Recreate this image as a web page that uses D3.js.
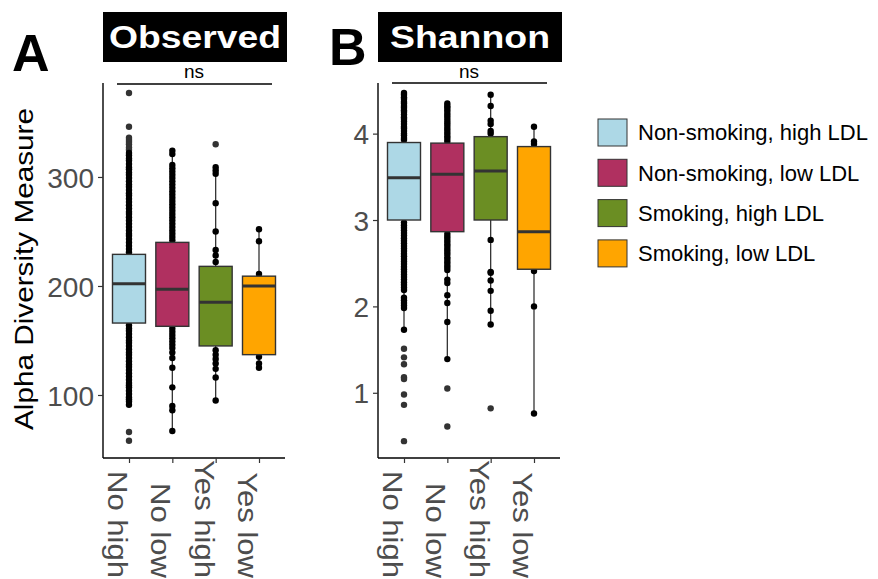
<!DOCTYPE html>
<html><head><meta charset="utf-8">
<script src="https://cdn.jsdelivr.net/npm/d3@7"></script>
<style>body{margin:0;background:#fff}svg{display:block}text{font-family:"Liberation Sans",Arial,sans-serif}</style>
</head><body><svg id="c" width="878" height="579"></svg>
<script>
// ---------- data ----------
const groups = ["No high", "No low", "Yes high", "Yes low"];
const legendLabels = ["Non-smoking, high LDL", "Non-smoking, low LDL", "Smoking, high LDL", "Smoking, low LDL"];
const fills = ["#ADD8E6", "#B03060", "#6B8E23", "#FFA500"];

// Observed richness
const obsQ1  = [166, 163, 145, 137];
const obsMed = [202, 197, 185, 200];
const obsQ3  = [229, 240, 218, 209];
const obsLo  = [91, 67, 95, 125];
const obsHi  = [322, 324, 309, 252];
const obsTicks = [100, 200, 300];
const obsPts = [
  [377, 346, 336, 334, 332, 330, 327, 325, 322, 320, 317, 315, 312, 309, 307, 304, 302, 299, 296, 293, 291, 288, 285, 283, 280, 277, 274, 271, 268, 266, 263, 260, 257, 254, 251, 248, 246, 243, 240, 237, 234, 231,
   164, 161, 159, 156, 153, 150, 148, 145, 142, 139, 137, 134, 131, 128, 126, 123, 120, 117, 114, 111, 109, 107, 104, 101, 98, 96, 94, 91, 66, 58],
  [324, 321, 311, 308, 305, 302, 299, 296, 293, 290, 287, 284, 281, 278, 275, 272, 269, 266, 263, 260, 257, 254, 251, 248, 245, 242,
   161, 158, 155, 152, 149, 146, 143, 139, 134, 125, 107, 90, 86, 67],
  [330, 309, 306, 303, 276, 250, 233, 228, 222, 141, 137, 133, 129, 124, 116, 95],
  [252, 241, 211, 135, 129, 125]
];

// Shannon diversity
const shQ1  = [3.0, 2.865, 3.0, 2.43];
const shMed = [3.49, 3.53, 3.567, 2.865];
const shQ3  = [3.897, 3.89, 3.965, 3.85];
const shLo  = [1.73, 1.39, 1.79, 0.76];
const shHi  = [4.47, 4.35, 4.45, 4.08];
const shTicks = [1, 2, 3, 4];
const shPts = [
  [4.47, 4.45, 4.42, 4.40, 4.37, 4.35, 4.32, 4.30, 4.27, 4.25, 4.22, 4.19, 4.17, 4.14, 4.11, 4.08, 4.06, 4.03, 4.00, 3.98, 3.95, 3.93,
   2.97, 2.94, 2.91, 2.88, 2.85, 2.82, 2.79, 2.76, 2.73, 2.70, 2.67, 2.64, 2.61, 2.58, 2.55, 2.52, 2.49, 2.46, 2.43, 2.40, 2.37, 2.34, 2.31, 2.28, 2.25, 2.22, 2.19, 2.10, 2.07, 2.04, 2.01, 1.98, 1.73,
   1.51, 1.41, 1.33, 1.18, 1.16, 0.98, 0.86, 0.44],
  [4.35, 4.32, 4.30, 4.27, 4.24, 4.21, 4.18, 4.15, 4.12, 4.09, 4.06, 4.03, 4.00, 3.97, 3.94, 3.91,
   2.84, 2.81, 2.78, 2.75, 2.72, 2.69, 2.66, 2.63, 2.60, 2.57, 2.54, 2.51, 2.48, 2.45, 2.42, 2.31, 2.27, 2.13, 2.04, 1.82, 1.39, 1.05, 0.61],
  [4.45, 4.32, 4.15, 4.11, 4.03, 4.00, 2.77, 2.40, 2.39, 2.30, 2.18, 1.95, 1.79, 0.82],
  [4.08, 3.91, 3.88, 2.41, 2.00, 0.76]
];

// ---------- drawing ----------
const svg = d3.select("#c");
const FONT = '"Liberation Sans",Arial,sans-serif';

function panel(o) {
  const x = d3.scalePoint().domain(groups).range([o.left, o.left + 182]).padding(0.6);
  const y = d3.scaleLinear().domain(o.domain).range([458, 83]);
  const g = svg.append("g");
  const bw = 33;

  // strip
  g.append("rect").attr("x", o.left).attr("y", 12).attr("width", 184).attr("height", 50).attr("fill", "#000");
  g.append("text").attr("x", o.left + 92).attr("y", 48).attr("text-anchor", "middle")
    .attr("font-size", 32).attr("font-weight", "bold").attr("fill", "#fff")
    .attr("textLength", o.titleLen).attr("lengthAdjust", "spacingAndGlyphs").text(o.title);

  // panel letter
  g.append("text").attr("x", o.letterX).attr("y", o.letterY).attr("font-size", 52).attr("font-weight", "bold")
    .attr("fill", "#000").text(o.letter);

  // axes
  const ya = d3.axisLeft(y).tickValues(o.ticks).tickSize(5).tickPadding(4).tickFormat(d3.format("d"));
  const yg = g.append("g").attr("transform", `translate(${o.left},0)`).call(ya);
  yg.select(".domain").attr("d", `M0,83V458`).attr("stroke", "#000").attr("stroke-width", 1.4);
  yg.selectAll(".tick line").attr("stroke", "#333").attr("stroke-width", 1.2);
  yg.selectAll(".tick text").attr("font-size", 28).attr("fill", "#4D4D4D").attr("font-family", FONT)
    .attr("dy", "0.36em");

  const xa = d3.axisBottom(x).tickSize(5).tickFormat("");
  const xg = g.append("g").attr("transform", "translate(0,458)").call(xa);
  xg.select(".domain").attr("d", `M${o.left},0H${o.left + 182}`).attr("stroke", "#000").attr("stroke-width", 1.4);
  xg.selectAll(".tick line").attr("stroke", "#333").attr("stroke-width", 1.2);

  groups.forEach((grp) => {
    const t = g.append("text").attr("font-size", 27).attr("fill", "#4D4D4D").text(grp);
    const len = t.node().getComputedTextLength() * 1.15;
    t.attr("textLength", len).attr("lengthAdjust", "spacingAndGlyphs")
      .attr("transform", `translate(${x(grp) - 21},${578 - len}) rotate(90)`);
  });

  // boxes
  groups.forEach((grp, i) => {
    const cx = x(grp);
    g.append("line").attr("x1", cx).attr("x2", cx).attr("y1", y(o.lo[i])).attr("y2", y(o.q1[i]))
      .attr("stroke", "#333").attr("stroke-width", 1.3);
    g.append("line").attr("x1", cx).attr("x2", cx).attr("y1", y(o.q3[i])).attr("y2", y(o.hi[i]))
      .attr("stroke", "#333").attr("stroke-width", 1.3);
    o.pts[i].forEach(v => {
      const out = v < o.lo[i] || v > o.hi[i];
      g.append("circle").attr("cx", cx).attr("cy", y(v)).attr("r", 3.2)
        .attr("fill", out ? "#333" : "#000");
    });
    g.append("rect").attr("x", cx - bw / 2).attr("width", bw)
      .attr("y", y(o.q3[i])).attr("height", y(o.q1[i]) - y(o.q3[i]))
      .attr("fill", fills[i]).attr("stroke", "#333").attr("stroke-width", 1.4);
    g.append("line").attr("x1", cx - bw / 2).attr("x2", cx + bw / 2).attr("y1", y(o.med[i])).attr("y2", y(o.med[i]))
      .attr("stroke", "#333").attr("stroke-width", 3);
  });

  // ns bracket
  g.append("line").attr("x1", x(groups[0]) - 12).attr("x2", x(groups[3]) + 13).attr("y1", o.nsY).attr("y2", o.nsY)
    .attr("stroke", "#000").attr("stroke-width", 1.6);
  g.append("text").attr("x", (x(groups[0]) + x(groups[3])) / 2).attr("y", 78).attr("text-anchor", "middle")
    .attr("font-size", 19).attr("fill", "#000").text("ns");
}

panel({left: 103, domain: [42.2, 386.2], ticks: obsTicks, q1: obsQ1, med: obsMed, q3: obsQ3, lo: obsLo, hi: obsHi, pts: obsPts,
       title: "Observed", titleLen: 172, letter: "A", letterX: 12, letterY: 71, nsY: 84});
panel({left: 378, domain: [0.245, 4.586], ticks: shTicks, q1: shQ1, med: shMed, q3: shQ3, lo: shLo, hi: shHi, pts: shPts,
       title: "Shannon", titleLen: 160, letter: "B", letterX: 329, letterY: 65, nsY: 83});

// y-axis title
svg.append("text").attr("transform", "translate(33,269) rotate(-90)").attr("text-anchor", "middle")
  .attr("font-size", 25).attr("fill", "#000").attr("textLength", 322).attr("lengthAdjust", "spacingAndGlyphs")
  .text("Alpha Diversity Measure");

// legend
const lg = svg.append("g");
legendLabels.forEach((lab, i) => {
  lg.append("rect").attr("x", 598).attr("y", 119 + i * 40.3).attr("width", 29).attr("height", 27)
    .attr("fill", fills[i]).attr("stroke", "#333").attr("stroke-width", 1);
  lg.append("text").attr("x", 638).attr("y", 132.5 + i * 40.3).attr("dy", "0.36em")
    .attr("font-size", 22).attr("fill", "#000").text(lab);
});
</script></body></html>
